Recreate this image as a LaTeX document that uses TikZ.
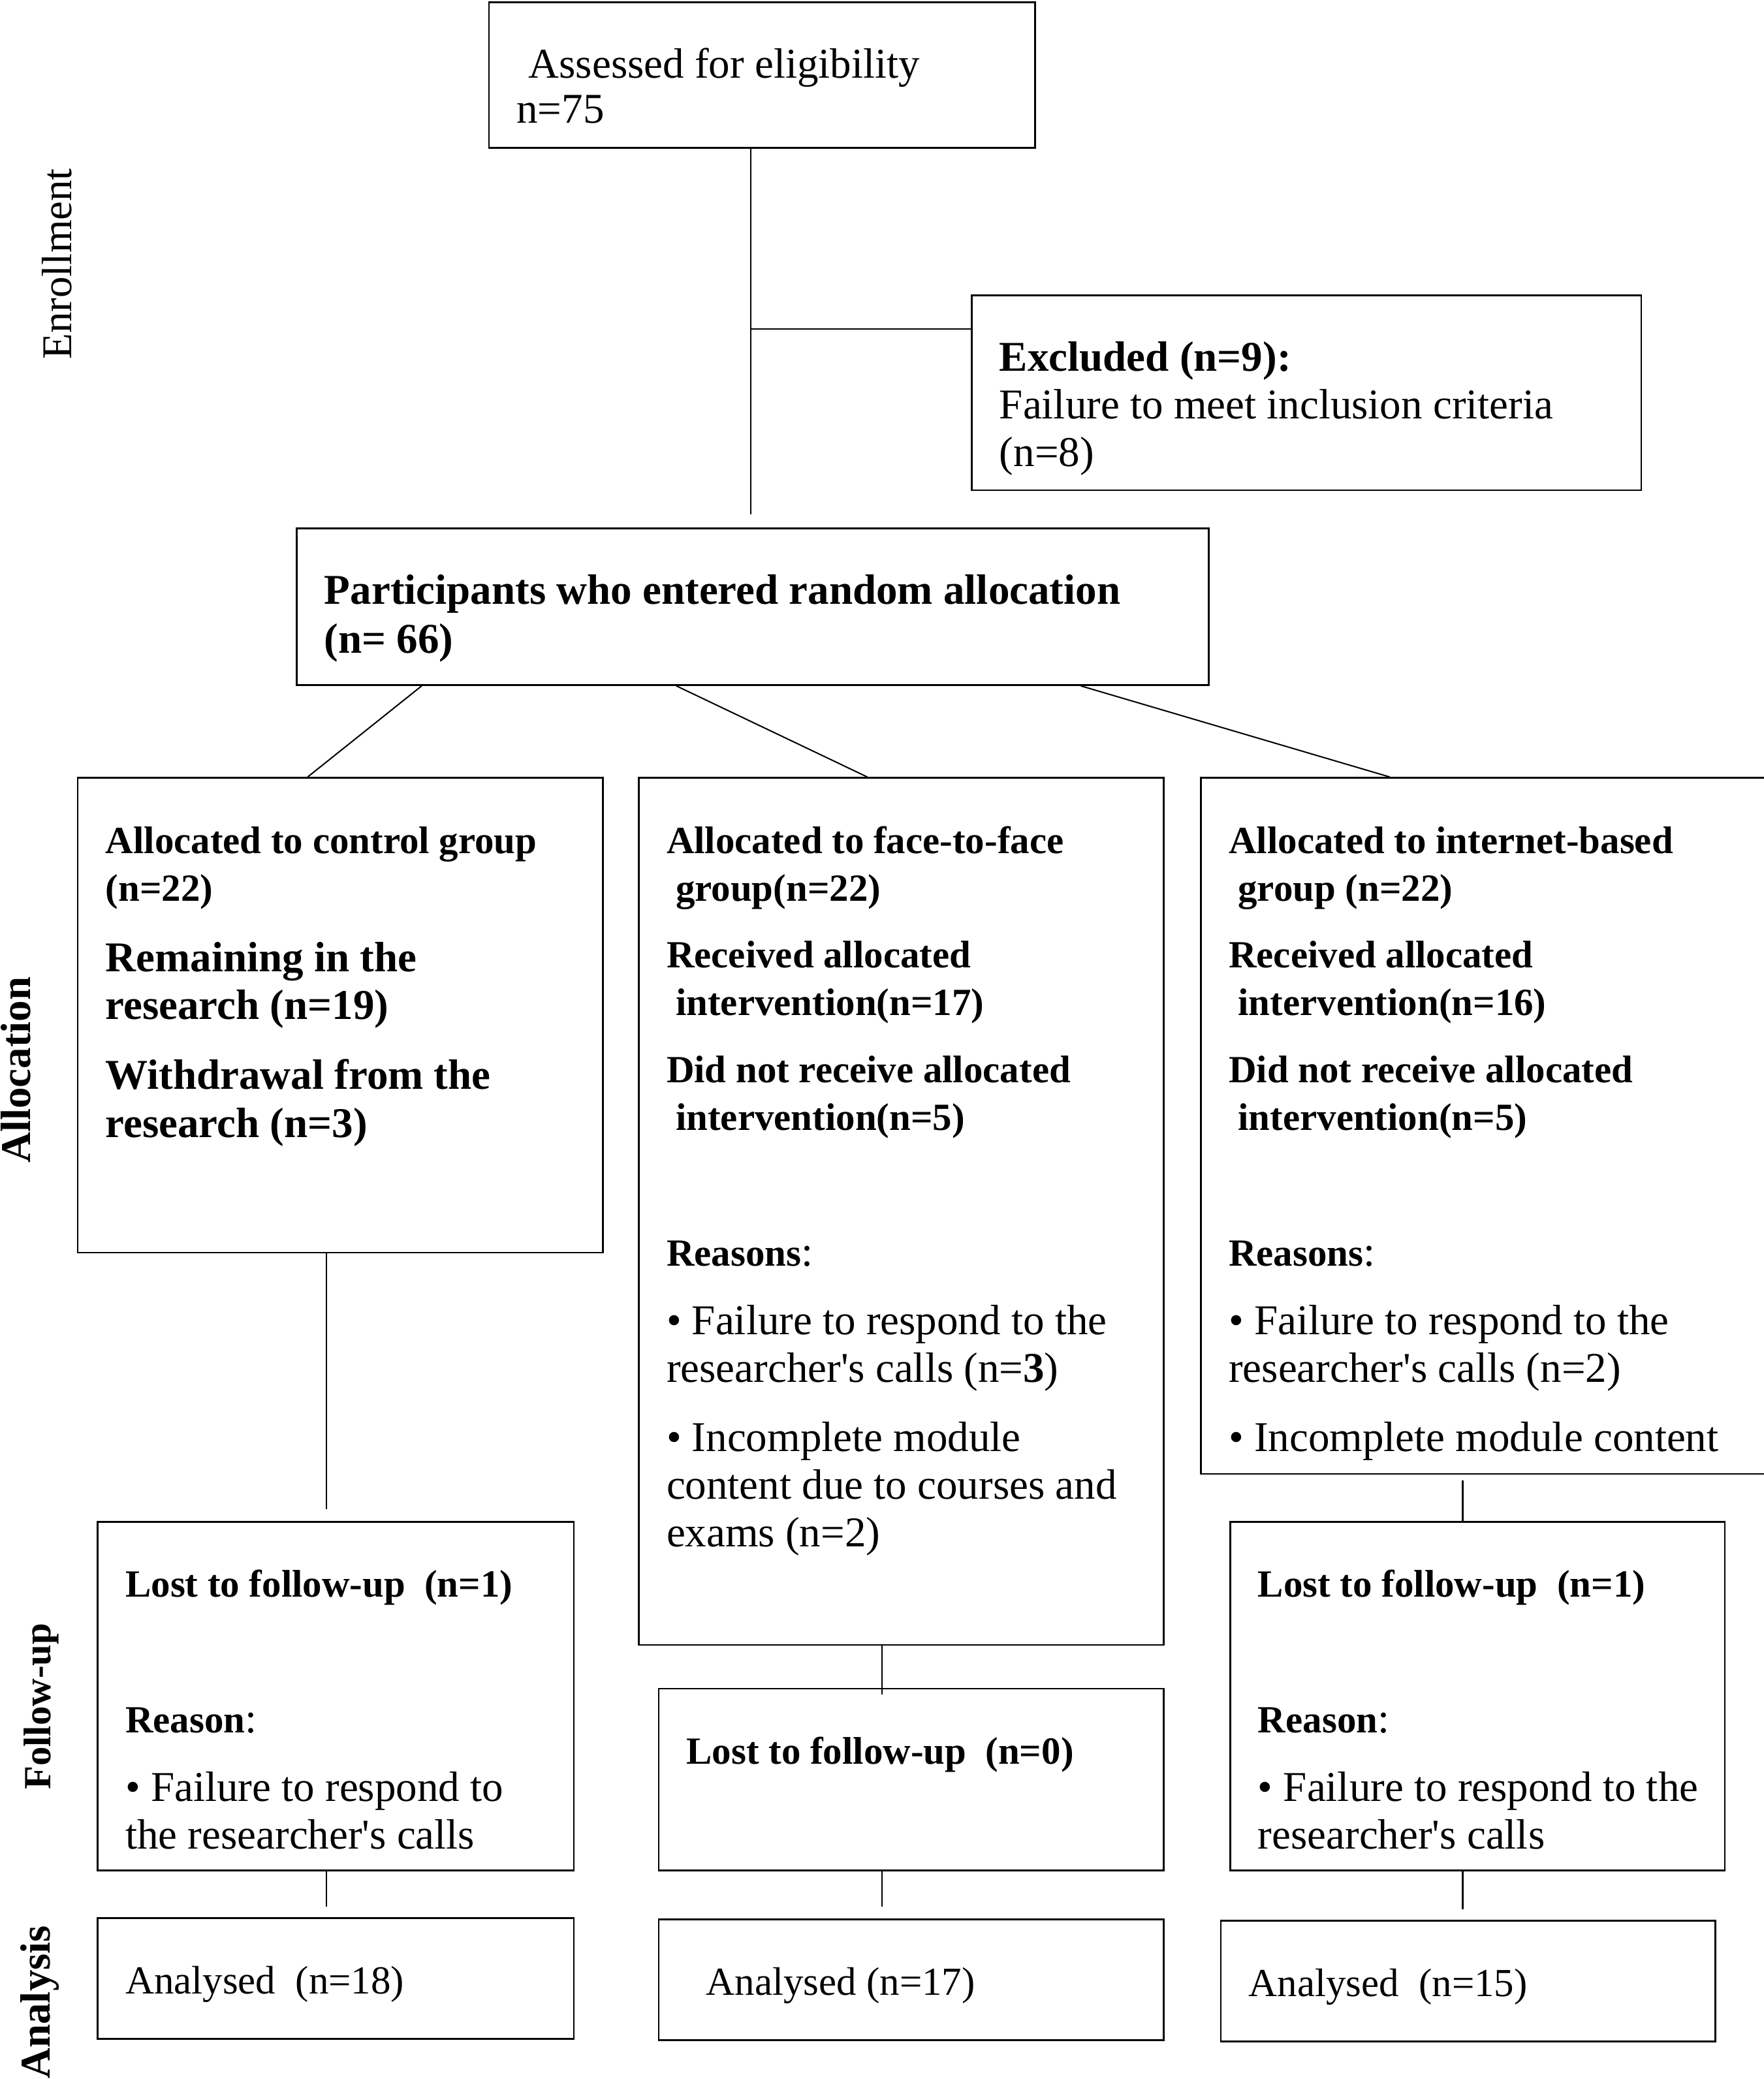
\documentclass[tikz,border=0pt]{standalone}
\usepackage{fontspec}
\setmainfont{Liberation Serif}
\usetikzlibrary{calc}

\newcommand{\boxtxt}[3]{\parbox[t][#2][t]{#1}{\selectfont\raggedright\leftskip=21pt\rule{0pt}{57pt}#3}}
\newcommand{\bsm}{\fontsize{29}{36}\selectfont\bfseries}
\newcommand{\rsch}{researcher\textquotesingle s}

\begin{document}
\begin{tikzpicture}[x=1pt,y=-1pt,
  box/.style={draw, line width=1.3pt, anchor=north west, inner sep=0pt, font=\fontsize{32}{36}\selectfont},
  link/.style={line width=1pt},
  side/.style={rotate=90, font=\fontsize{32}{36}\selectfont\bfseries}]

\useasboundingbox (0,0) rectangle (1330,1568);

\node[box, font=\fontsize{32}{34}\selectfont] (assess) at (368,1) {\boxtxt{412pt}{110pt}{\hspace*{9pt}Assessed for eligibility\\ n=75}};
\node[box] (excl) at (732,222) {\boxtxt{505pt}{147pt}{\textbf{Excluded (n=9):}\\ Failure to meet inclusion criteria\\ (n=8)}};
\node[box, font=\fontsize{32}{37}\selectfont] (part) at (223,398) {\boxtxt{688pt}{118pt}{\textbf{Participants who entered random allocation}\\ \textbf{(n= 66)}}};

\node[box] (ctrl) at (58,586) {\boxtxt{396pt}{358pt}{{\bsm Allocated to control group}\\ {\bsm (n=22)}\\[17pt]
  \textbf{Remaining in the}\\ \textbf{research (n=19)}\\[17pt]
  \textbf{Withdrawal from the}\\ \textbf{research (n=3)}}};
\node[box] (face) at (481,586) {\boxtxt{396pt}{654pt}{{\bsm Allocated to face-to-face}\\ {\bsm\hspace*{7pt}group(n=22)}\\[14pt]
  {\bsm Received allocated}\\ {\bsm\hspace*{7pt}intervention(n=17)}\\[15pt]
  {\bsm Did not receive allocated}\\ {\bsm\hspace*{7pt}intervention(n=5)}\\[66pt]
  {\bsm Reasons}:\\[16pt]
  • Failure to respond to the\\ \rsch{} calls (n=\textbf{3})\\[16pt]
  • Incomplete module\\ content due to courses and\\ exams (n=2)}};
\node[box] (inet) at (905,586) {\boxtxt{425pt}{525pt}{{\bsm Allocated to internet-based}\\ {\bsm\hspace*{7pt}group (n=22)}\\[14pt]
  {\bsm Received allocated}\\ {\bsm\hspace*{7pt}intervention(n=16)}\\[15pt]
  {\bsm Did not receive allocated}\\ {\bsm\hspace*{7pt}intervention(n=5)}\\[66pt]
  {\bsm Reasons}:\\[16pt]
  • Failure to respond to the\\ \rsch{} calls (n=2)\\[16pt]
  • Incomplete module content}};

\node[box] (lostc) at (73,1147) {\boxtxt{359pt}{263pt}{{\bsm Lost to follow-up\ \ (n=1)}\\[66pt]
  {\bsm Reason}:\\[16pt]
  • Failure to respond to\\ the \rsch{} calls}};
\node[box] (lostf) at (496,1273) {\boxtxt{381pt}{137pt}{{\bsm Lost to follow-up\ \ (n=0)}}};
\node[box] (losti) at (927,1147) {\boxtxt{373pt}{263pt}{{\bsm Lost to follow-up\ \ (n=1)}\\[66pt]
  {\bsm Reason}:\\[16pt]
  • Failure to respond to the\\ \rsch{} calls}};

\node[box, font=\fontsize{30}{36}\selectfont] (anc) at (73,1446) {\boxtxt{359pt}{91pt}{Analysed\ \ (n=18)}};
\node[box, font=\fontsize{30}{36}\selectfont] (anf) at (496,1447) {\boxtxt{381pt}{91pt}{\hspace*{15pt}Analysed (n=17)}};
\node[box, font=\fontsize{30}{36}\selectfont] (ani) at (920,1448) {\boxtxt{373pt}{91pt}{Analysed\ \ (n=15)}};

\node[side, font=\fontsize{32}{36}\selectfont] (enrol) at (43,199) {Enrollment};
\node[side] (alloc) at (12,807) {Allocation};
\node[side, font=\fontsize{29}{36}\selectfont\bfseries] (follow) at (31,1287) {Follow-up};
\node[side] (analysis) at (30,1510) {Analysis};

\coordinate (trunk) at (566,388);
\coordinate (fork) at (566,248);
\draw[link] (assess.south -| trunk) -- (trunk);
\draw[link] (fork) -- (fork -| excl.west);

\draw[link] ($(part.south west)+(95,0)$) -- ($(ctrl.north west)+(174,0)$);
\draw[link] ($(part.south west)+(287,0)$) -- ($(face.north west)+(173,0)$);
\draw[link] ($(part.south west)+(592,0)$) -- ($(inet.north west)+(143,0)$);

\draw[link] ($(ctrl.south west)+(188,0)$) -- ($(lostc.north west)+(173,-9)$);
\draw[link] ($(face.south west)+(184,0)$) -- ($(lostf.north west)+(169,5)$);
\draw[link] ($(inet.south west)+(198,4)$) -- ($(losti.north west)+(176,0)$);

\draw[link] ($(lostc.south west)+(173,0)$) -- ($(anc.north west)+(173,-8)$);
\draw[link] ($(lostf.south west)+(169,0)$) -- ($(anf.north west)+(169,-9)$);
\draw[link] ($(losti.south west)+(176,0)$) -- ($(ani.north west)+(183,-8)$);
\end{tikzpicture}
\end{document}
